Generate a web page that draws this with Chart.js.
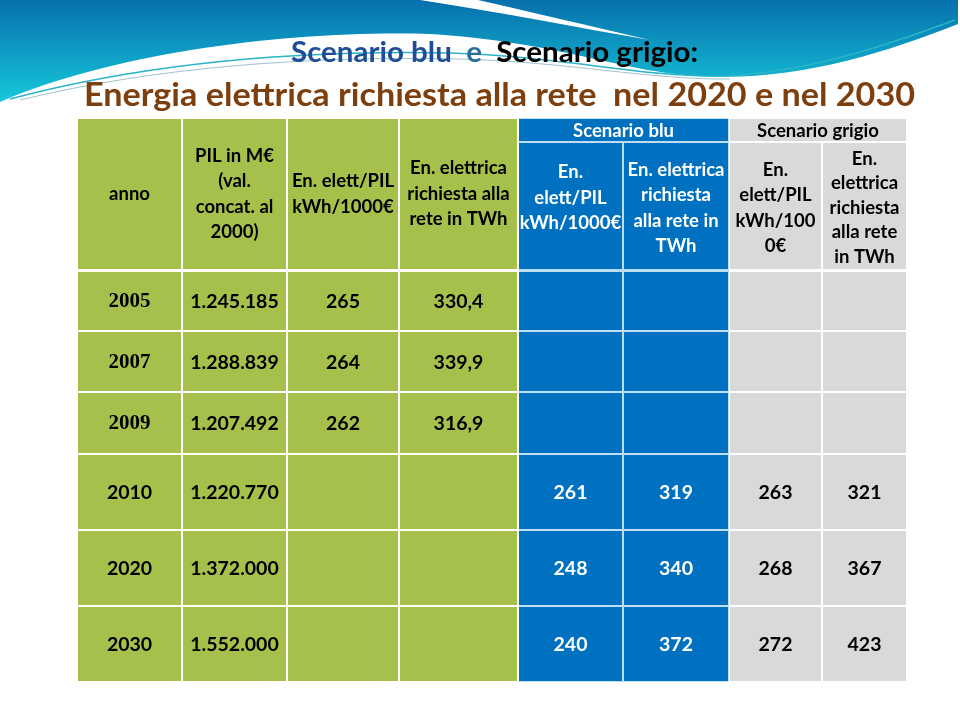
<!DOCTYPE html>
<html>
<head>
<meta charset="utf-8">
<script src="https://cdn.jsdelivr.net/npm/chart.js@4.4.1/dist/chart.umd.min.js"></script>
<style>
  html, body { margin: 0; padding: 0; background: #fff; }
  canvas { display: block; }
</style>
</head>
<body>
<canvas id="tabella" width="960" height="716"></canvas>
<script>
const anni = ['2005', '2007', '2009', '2010', '2020', '2030'];
const pil = [1245185, 1288839, 1207492, 1220770, 1372000, 1552000];
const intensita = [265, 264, 262, null, null, null];
const richiesta = [330.4, 339.9, 316.9, null, null, null];
const bluIntensita = [null, null, null, 261, 248, 240];
const bluRichiesta = [null, null, null, 319, 340, 372];
const grigioIntensita = [null, null, null, 263, 268, 272];
const grigioRichiesta = [null, null, null, 321, 367, 423];

const scenari = ['Scenario blu', 'Scenario grigio'];
const intestazioni = [
  ['anno'],
  ['PIL in M€', '(val.', 'concat. al', '2000)'],
  ['En. elett/PIL', 'kWh/1000€'],
  ['En. elettrica', 'richiesta alla', 'rete in TWh'],
  ['En.', 'elett/PIL', 'kWh/1000€'],
  ['En. elettrica', 'richiesta', 'alla rete in', 'TWh'],
  ['En.', 'elett/PIL', 'kWh/100', '0€'],
  ['En.', 'elettrica', 'richiesta', 'alla rete', 'in TWh']
];

// bordi di colonne e righe in unita' delle scale
const colonne = [0, 105, 210, 322, 441, 546, 652, 745, 830];
const righe = [0, 24, 152, 213, 274, 336, 412, 488, 564];

const VERDE = '#A6C14B';
const BLU = '#0070C0';
const GRIGIO = '#D9D9D9';
const FONT = 'Lato, "Open Sans", sans-serif';

function migliaia(n) {
  return String(n).replace(/\B(?=(\d{3})+(?!\d))/g, '.');
}
function decimale(n) {
  if (n === null) return '';
  return Number.isInteger(n) ? String(n) : n.toFixed(1).replace('.', ',');
}

function coloreColonna(c) {
  if (c < 4) return VERDE;
  if (c < 6) return BLU;
  return GRIGIO;
}

// scrive una riga di pezzi colorati, compressa in orizzontale fino alla larghezza voluta
function riga(ctx, pezzi, x, y, font, larghezza) {
  ctx.save();
  ctx.font = font;
  ctx.textAlign = 'left';
  ctx.textBaseline = 'alphabetic';
  const tot = pezzi.reduce((s, p) => s + ctx.measureText(p[0]).width, 0);
  ctx.translate(x, y);
  ctx.scale(larghezza / tot, 1);
  let cx = 0;
  pezzi.forEach(p => {
    ctx.fillStyle = p[1];
    ctx.fillText(p[0], cx, 0);
    cx += ctx.measureText(p[0]).width;
  });
  ctx.restore();
}

function onda(ctx) {
  const g = ctx.createLinearGradient(0, 0, 0, 105);
  g.addColorStop(0, '#0770AC');
  g.addColorStop(1, '#16CADC');
  ctx.fillStyle = g;
  ctx.beginPath();
  ctx.moveTo(0, 0);
  ctx.lineTo(958, 0);
  ctx.lineTo(958, 24);
  ctx.bezierCurveTo(880, 55, 790, 82, 700, 76);
  ctx.bezierCurveTo(620, 72, 560, 42, 430, 34);
  ctx.bezierCurveTo(300, 30, 120, 50, 0, 102);
  ctx.closePath();
  ctx.fill();

  // banda bianca
  ctx.fillStyle = '#fff';
  ctx.beginPath();
  ctx.moveTo(420, 0);
  ctx.lineTo(478, 0);
  ctx.bezierCurveTo(530, 12, 590, 26, 650, 40);
  ctx.bezierCurveTo(580, 28, 500, 12, 420, 0);
  ctx.fill();

  // filetti
  ctx.lineWidth = 1.5;
  ctx.strokeStyle = '#2BB3C6';
  ctx.beginPath();
  ctx.moveTo(10, 99);
  ctx.bezierCurveTo(150, 62, 300, 50, 450, 53);
  ctx.bezierCurveTo(560, 56, 640, 77, 720, 76);
  ctx.bezierCurveTo(800, 74, 880, 48, 955, 20);
  ctx.stroke();
  ctx.lineWidth = 1;
  ctx.strokeStyle = '#9CC3D0';
  ctx.beginPath();
  ctx.moveTo(20, 100);
  ctx.bezierCurveTo(160, 66, 310, 56, 460, 59);
  ctx.bezierCurveTo(570, 62, 650, 80, 730, 79);
  ctx.stroke();
}

function titolo(ctx) {
  riga(ctx, [['Scenario blu', '#1F4E96'], ['  e  ', '#2A6E9E'], ['Scenario grigio:', '#000']],
    291, 62, 'bold 29px ' + FONT, 407);
  riga(ctx, [['Energia elettrica richiesta alla rete  nel 2020 e nel 2030', '#7E3F0E']],
    84, 106, 'bold 33px ' + FONT, 831);
}

const tabellaPlugin = {
  id: 'tabella',
  beforeDraw(chart) {
    const ctx = chart.ctx;
    ctx.save();
    onda(ctx);
    titolo(ctx);
    ctx.restore();
  },
  afterDraw(chart) {
    const ctx = chart.ctx;
    const xs = chart.scales.x, ys = chart.scales.y;
    const X = v => xs.getPixelForValue(v);
    const Y = v => ys.getPixelForValue(v);

    function cella(c0, c1, r0, r1, colore) {
      const x0 = X(colonne[c0]), x1 = X(colonne[c1]);
      const y0 = Y(righe[r0]) + (r0 === 2 ? 2 : 1), y1 = Y(righe[r1]) - 1;
      ctx.fillStyle = colore;
      ctx.fillRect(x0 + 1, y0, x1 - x0 - 2, y1 - y0);
    }
    function righeTesto(linee, cx, cy, font, colore, passo) {
      ctx.font = font;
      ctx.fillStyle = colore;
      ctx.textAlign = 'center';
      ctx.textBaseline = 'middle';
      const inizio = cy - (linee.length - 1) * passo / 2;
      linee.forEach((t, i) => ctx.fillText(t, cx, inizio + i * passo));
    }

    ctx.save();
    // fondo azzurro chiaro dietro al blocco blu (linee della griglia)
    ctx.fillStyle = '#BDDDF3';
    ctx.fillRect(X(colonne[4]) + 1, Y(righe[0]), X(colonne[6]) - X(colonne[4]) - 1, Y(righe[8]) - Y(righe[0]));

    // intestazioni
    for (let c = 0; c < 4; c++) cella(c, c + 1, 0, 2, VERDE);
    cella(4, 6, 0, 1, BLU);
    cella(6, 8, 0, 1, GRIGIO);
    for (let c = 4; c < 8; c++) cella(c, c + 1, 1, 2, coloreColonna(c));

    const fh = 'bold 18.5px ' + FONT;
    for (let c = 0; c < 8; c++) {
      const cx = (X(colonne[c]) + X(colonne[c + 1])) / 2;
      const colore = coloreColonna(c) === BLU ? '#fff' : '#000';
      let cy;
      if (c < 4) cy = (Y(righe[0]) + Y(righe[2])) / 2;
      else cy = (Y(righe[1]) + Y(righe[2])) / 2 + (c === 4 ? -8 : 2);
      righeTesto(intestazioni[c], cx, cy, fh, colore, c === 7 ? 24.5 : 25.5);
    }
    scenari.forEach((s, i) => {
      const c0 = 4 + i * 2;
      const cx = (X(colonne[c0]) + X(colonne[c0 + 2])) / 2;
      const cy = (Y(righe[0]) + Y(righe[1])) / 2 + 1;
      righeTesto([s], cx, cy, fh, i === 0 ? '#fff' : '#000', 0);
    });

    // righe di dati
    const fd = 'bold 19.5px ' + FONT;
    const fs = 'bold 21px "Liberation Serif", "Times New Roman", serif';
    anni.forEach((anno, r) => {
      const valori = [anno, migliaia(pil[r]), decimale(intensita[r]), decimale(richiesta[r]),
        decimale(bluIntensita[r]), decimale(bluRichiesta[r]),
        decimale(grigioIntensita[r]), decimale(grigioRichiesta[r])];
      const cy = (Y(righe[r + 2]) + Y(righe[r + 3])) / 2 + 1;
      valori.forEach((v, c) => {
        cella(c, c + 1, r + 2, r + 3, coloreColonna(c));
        if (!v) return;
        const cx = (X(colonne[c]) + X(colonne[c + 1])) / 2;
        const font = (c === 0 && r < 3) ? fs : fd;
        righeTesto([v], cx, cy, font, coloreColonna(c) === BLU ? '#fff' : '#000', 0);
      });
    });
    ctx.restore();
  }
};

new Chart(document.getElementById('tabella'), {
  type: 'scatter',
  data: { datasets: [] },
  options: {
    responsive: false,
    animation: false,
    devicePixelRatio: 1,
    layout: { padding: { left: 77, right: 53, top: 118, bottom: 34 } },
    scales: {
      x: { type: 'linear', min: 0, max: 830, display: false },
      y: { type: 'linear', min: 0, max: 564, reverse: true, display: false }
    },
    plugins: { legend: { display: false }, tooltip: { enabled: false } }
  },
  plugins: [tabellaPlugin]
});
</script>
</body>
</html>
